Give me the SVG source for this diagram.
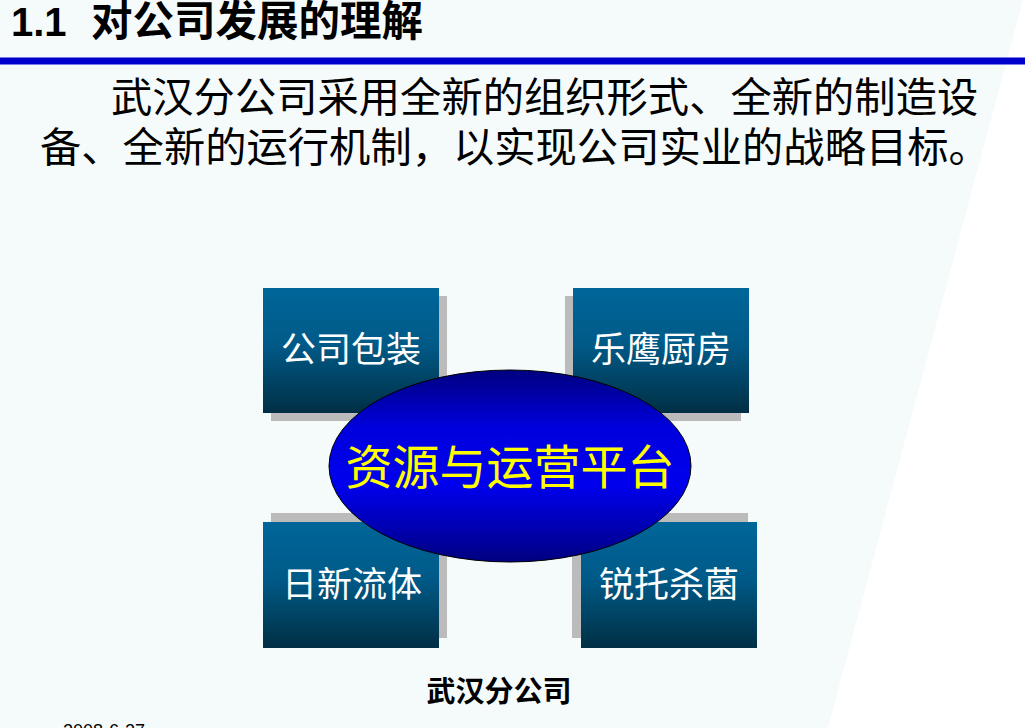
<svg xmlns="http://www.w3.org/2000/svg" width="1036" height="728" viewBox="0 0 1036 728">
<defs>
<linearGradient id="boxg" x1="0" y1="0" x2="0" y2="1">
<stop offset="0" stop-color="#006699"/>
<stop offset="0.45" stop-color="#005a88"/>
<stop offset="1" stop-color="#002f44"/>
</linearGradient>
<linearGradient id="ellg" x1="0" y1="0" x2="0" y2="1">
<stop offset="0" stop-color="#000080"/>
<stop offset="0.3" stop-color="#0000dd"/>
<stop offset="0.6" stop-color="#0000ee"/>
<stop offset="1" stop-color="#000080"/>
</linearGradient>
<style>
.cjk{font-family:"Noto Sans CJK SC","Noto Sans CJK JP",sans-serif}
.box{fill:url(#boxg)}
.shadow{fill:#bbbbbb}
.btxt{fill:#ffffff;font-size:35px;text-anchor:middle}
</style>
</defs>
<rect width="1036" height="728" fill="#ffffff"/>
<polygon points="0,0 1023,0 828,728 0,728" fill="#f5fbfb"/>
<text x="11" y="36" font-family="Liberation Sans, Arial, sans-serif" font-weight="bold" font-size="40" fill="#000">1.1</text>
<text x="91" y="36" class="cjk" font-weight="bold" font-size="41.5" fill="#000">对公司发展的理解</text>
<rect x="0" y="57.5" width="1025" height="7" fill="#0000cc"/>
<text x="111" y="112" class="cjk" font-size="41.3" fill="#000">武汉分公司采用全新的组织形式、全新的制造设</text>
<text x="40" y="162" class="cjk" font-size="41.3" fill="#000">备、全新的运行机制，以实现公司实业的战略目标。</text>
<g id="connectors"></g>
<g id="node-gongsibaozhuang">
<rect class="shadow" x="271" y="296" width="176" height="125"/>
<rect class="box" x="263" y="288" width="176" height="125"/>
<text class="cjk btxt" x="351" y="362">公司包装</text>
</g>
<g id="node-leyingchufang">
<rect class="shadow" x="565" y="296" width="176" height="125"/>
<rect class="box" x="573" y="288" width="176" height="125"/>
<text class="cjk btxt" x="661" y="362">乐鹰厨房</text>
</g>
<g id="node-rixinliuti">
<rect class="shadow" x="271" y="513" width="176" height="125"/>
<rect class="box" x="263" y="522" width="176" height="126"/>
<text class="cjk btxt" x="352" y="597">日新流体</text>
</g>
<g id="node-ruituoshajun">
<rect class="shadow" x="572" y="513" width="176" height="125"/>
<rect class="box" x="581" y="522" width="176" height="126"/>
<text class="cjk btxt" x="669" y="597">锐托杀菌</text>
</g>
<g id="node-platform">
<ellipse cx="510" cy="466" rx="181" ry="96" fill="url(#ellg)" stroke="#000" stroke-width="1"/>
<text class="cjk" x="510" y="484" font-size="47" fill="#ffff00" text-anchor="middle">资源与运营平台</text>
</g>
<text x="499" y="702" class="cjk" font-weight="bold" font-size="29" fill="#000" text-anchor="middle">武汉分公司</text>
<text x="63" y="737" font-family="Liberation Sans, Arial, sans-serif" font-size="18" fill="#000">2008-6-27</text>
</svg>
